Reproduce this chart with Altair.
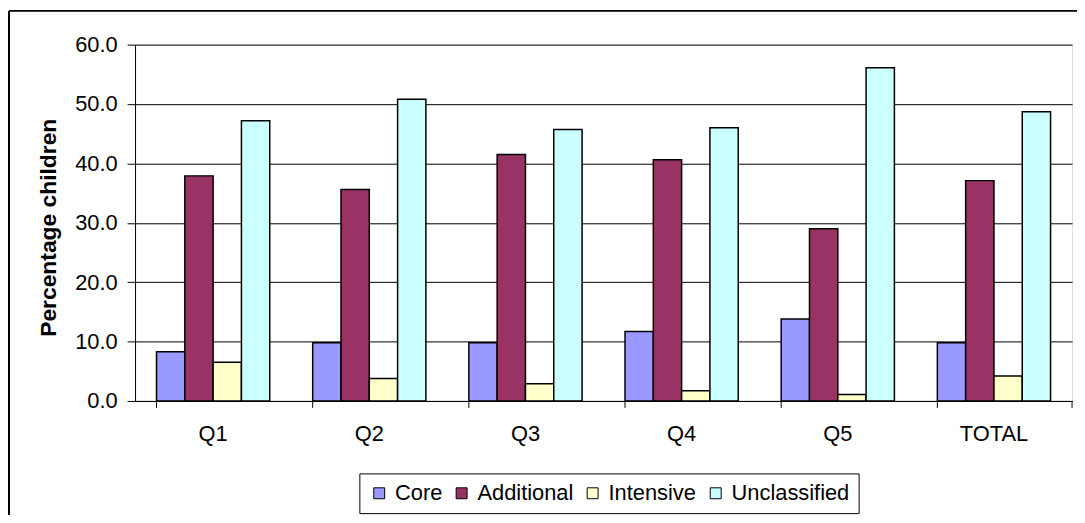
import altair as alt
import pandas as pd

categories = ["Q1", "Q2", "Q3", "Q4", "Q5", "TOTAL"]
series = ["Core", "Additional", "Intensive", "Unclassified"]
core = [8.3, 9.8, 9.8, 11.7, 13.8, 9.8]
additional = [37.9, 35.6, 41.5, 40.6, 29.0, 37.1]
intensive = [6.5, 3.8, 2.9, 1.7, 1.1, 4.2]
unclassified = [47.2, 50.8, 45.7, 46.0, 56.1, 48.7]
colors = ["#9999FF", "#993366", "#FFFFCC", "#CCFFFF"]
y_ticks = [0, 10, 20, 30, 40, 50, 60]

rows = []
for i, c in enumerate(categories):
    for s, vals in zip(series, [core, additional, intensive, unclassified]):
        rows.append({"cat": c, "series": s, "value": vals[i]})
df = pd.DataFrame(rows)
ticks_df = pd.DataFrame({"cat": categories})

W, H = 944, 359
FONT = "Liberation Sans"
FS = 22

xscale = alt.Scale(domain=categories, paddingInner=0.275, paddingOuter=0.1375)

bars = alt.Chart(df).mark_bar(stroke="black", strokeWidth=1.5).encode(
    x=alt.X("cat:N", sort=categories, scale=xscale,
            axis=alt.Axis(title=None, labelAngle=0, ticks=False, labelPadding=23,
                          labelFontSize=FS, labelFont=FONT, labelColor="black",
                          domainColor="black", domainWidth=1, grid=False)),
    xOffset=alt.XOffset("series:N", sort=series,
                        scale=alt.Scale(domain=series, paddingInner=0, paddingOuter=0)),
    y=alt.Y("value:Q",
            scale=alt.Scale(domain=[0, 60], nice=False),
            axis=alt.Axis(values=y_ticks, format=".1f", title="Percentage children",
                          titleFontSize=23, titleFont=FONT, titleFontWeight="bold",
                          titleColor="black", titleX=-87, titleY=184,
                          titleBaseline="middle",
                          labelFontSize=FS, labelFont=FONT, labelColor="black",
                          labelPadding=10, tickSize=8, tickColor="black",
                          domainColor="black", gridColor="black", gridWidth=1,
                          gridOpacity=1)),
    color=alt.Color("series:N", sort=series,
                    scale=alt.Scale(domain=series, range=colors),
                    legend=alt.Legend(title=None, orient="none", direction="horizontal",
                                      legendX=226, legendY=432,
                                      labelFontSize=FS, labelFont=FONT, labelColor="black",
                                      symbolType="square", symbolSize=121,
                                      symbolStrokeColor="black", symbolStrokeWidth=1,
                                      strokeColor="black", fillColor="white",
                                      padding=9, columnPadding=8, labelOffset=5)),
)

xticks = alt.Chart(ticks_df).mark_rule(color="black", strokeWidth=1).encode(
    x=alt.X("cat:N", sort=categories, scale=xscale, bandPosition=0),
    y=alt.value(H), y2=alt.value(H + 7),
)
last_tick = alt.Chart(ticks_df.head(1)).mark_rule(color="black", strokeWidth=1).encode(
    x=alt.value(W), y=alt.value(H), y2=alt.value(H + 7),
)
frame_top = alt.Chart(ticks_df.head(1)).mark_rule(color="black", strokeWidth=2).encode(
    x=alt.value(-127), x2=alt.value(W + 10), y=alt.value(-34),
)
frame_left = alt.Chart(ticks_df.head(1)).mark_rule(color="black", strokeWidth=2).encode(
    x=alt.value(-127), y=alt.value(-34), y2=alt.value(H + 120),
)

chart = alt.layer(frame_top, frame_left, bars, xticks, last_tick).properties(
    width=W, height=H,
    autosize=alt.AutoSizeParams(type="none"),
    padding={"left": 128, "top": 35, "right": 5, "bottom": 113},
).configure_view(stroke=None).configure(background="white")

chart.save("out.html", embed_options={"renderer": "svg", "actions": False})
